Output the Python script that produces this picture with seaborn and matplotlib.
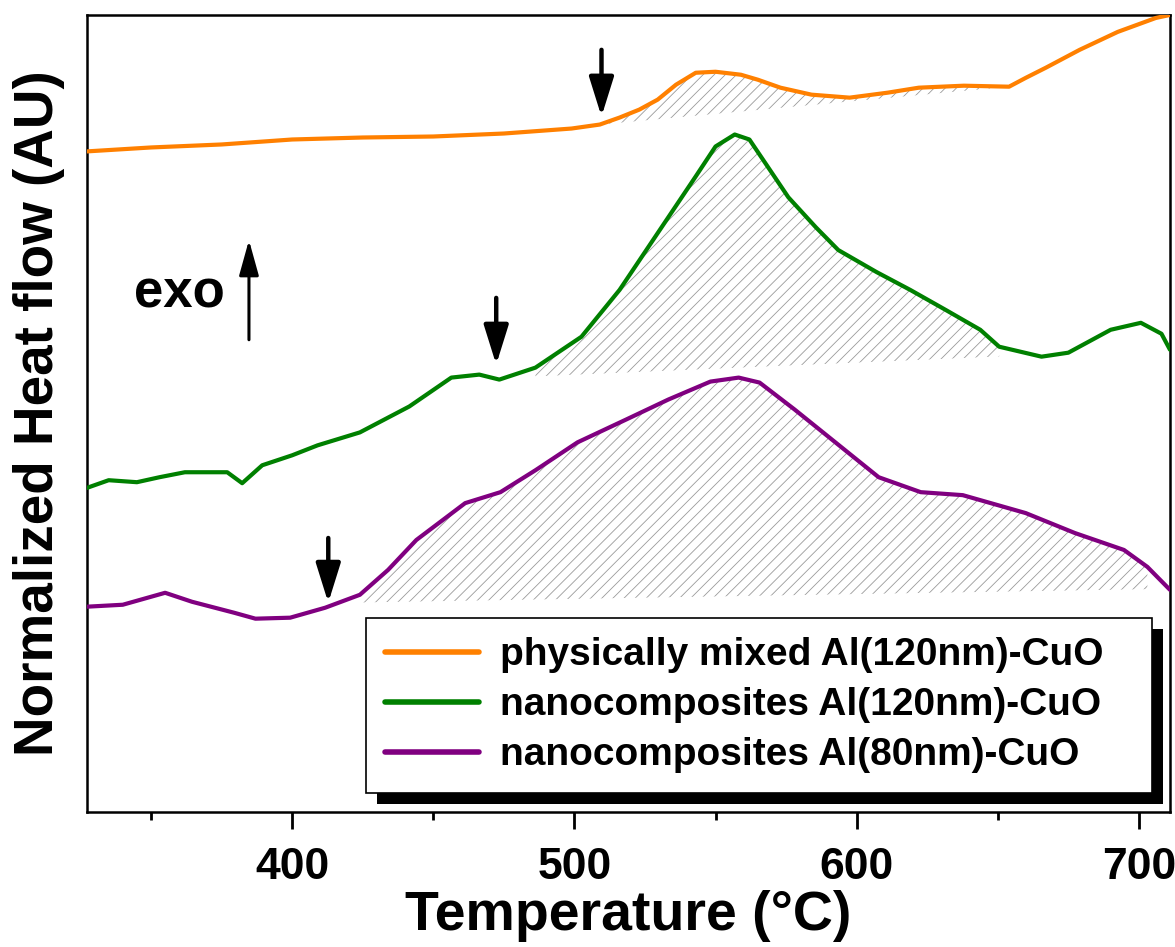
import numpy as np
import pandas as pd
import matplotlib
matplotlib.use("Agg")
import matplotlib.pyplot as plt
import matplotlib.patheffects as pe
import seaborn as sns

# curves (temperature in degC, heat flow in AU, offset per sample)
orange_T = [327, 350, 375, 400, 425, 450, 475, 499, 509, 516, 523, 529.5, 536, 543, 550, 559,
            565, 573, 584, 597.5, 611, 622, 638, 654, 660, 667, 679, 692.5, 706, 711]
orange_V = [6.63, 6.67, 6.70, 6.75, 6.77, 6.78, 6.81, 6.86, 6.90, 6.97, 7.05, 7.15, 7.30, 7.42,
            7.43, 7.40, 7.35, 7.27, 7.20, 7.17, 7.22, 7.27, 7.29, 7.28, 7.37, 7.47, 7.65, 7.83,
            7.97, 8.0]

green_T = [327, 335, 345, 353, 362, 377, 382.3, 389.4, 400, 409, 424, 441.5, 456.4, 466.3, 473.4,
           486.2, 502.5, 516, 529.5, 543, 550, 556.8, 562, 575.8, 585.5, 593.5, 607, 619, 631.5,
           643.8, 650.5, 665.5, 675, 690, 700.7, 708, 711]
green_V = [3.25, 3.33, 3.31, 3.36, 3.41, 3.41, 3.30, 3.48, 3.58, 3.68, 3.81, 4.07, 4.36, 4.39, 4.34,
           4.46, 4.77, 5.24, 5.81, 6.38, 6.68, 6.80, 6.75, 6.17, 5.87, 5.64, 5.42, 5.24, 5.04,
           4.84, 4.67, 4.57, 4.61, 4.84, 4.91, 4.80, 4.64]

purple_T = [327, 340, 355, 364.5, 379.4, 387, 399.3, 411.7, 424, 434, 444, 461.3, 473.8, 486.2,
            501.1, 518.4, 533.3, 548.2, 558.2, 565.6, 578, 592.9, 607.8, 622.7, 637.6, 659.9,
            677.3, 694.7, 703, 711]
purple_V = [2.06, 2.08, 2.20, 2.11, 2.00, 1.94, 1.95, 2.05, 2.18, 2.43, 2.73, 3.10, 3.21, 3.43,
            3.71, 3.94, 4.14, 4.32, 4.36, 4.31, 4.04, 3.70, 3.36, 3.21, 3.18, 3.00, 2.80, 2.63,
            2.46, 2.23]

labels = ["physically mixed Al(120nm)-CuO",
          "nanocomposites Al(120nm)-CuO",
          "nanocomposites Al(80nm)-CuO"]
colors = ["#FF8000", "#008000", "#800080"]

# integration baselines (start T, start V, end T, end V)
orange_base = [509, 6.90, 654, 7.28]
green_base = [476, 4.36, 657, 4.58]
purple_base = [418, 2.10, 710, 2.24]

# onset arrows (T, tail V, tip V)
onset_T = [509.6, 472.3, 412.8]
onset_tail = [7.65, 5.16, 2.75]
onset_tip = [6.98, 4.49, 2.10]

xticks_major = [400, 500, 600, 700]
xticks_minor = [350, 450, 550, 650]

sns.set_style("ticks")
plt.rcParams["font.family"] = ["Liberation Sans", "DejaVu Sans"]
plt.rcParams["font.weight"] = "bold"
plt.rcParams["text.color"] = "black"
plt.rcParams["axes.labelcolor"] = "black"
plt.rcParams["xtick.color"] = "black"
plt.rcParams["hatch.linewidth"] = 0.6

fig = plt.figure(figsize=(11.75, 9.47), dpi=100)
ax = fig.add_axes([0.074, 0.1426, 0.9217, 0.8416])

curves = [(orange_T, orange_V, orange_base),
          (green_T, green_V, green_base),
          (purple_T, purple_V, purple_base)]

for (T, V, base), c, lab in zip(curves, colors, labels):
    T = np.array(T)
    V = np.array(V)
    m = (T >= base[0]) & (T <= base[2])
    bl = np.interp(T[m], [base[0], base[2]], [base[1], base[3]])
    ax.fill_between(T[m], V[m], bl, where=V[m] >= bl, interpolate=True,
                    facecolor="none", edgecolor="#9a9a9a", hatch="///", linewidth=0, zorder=1)
    df = pd.DataFrame({"T": T, "V": V})
    sns.lineplot(data=df, x="T", y="V", color=c, lw=3, label=lab, ax=ax, zorder=3)

for t, a, b in zip(onset_T, onset_tail, onset_tip):
    ax.annotate("", xy=(t, b), xytext=(t, a),
                arrowprops=dict(arrowstyle="-|>,head_length=0.8,head_width=0.25",
                                lw=3.2, color="black", mutation_scale=30, shrinkA=0, shrinkB=0))

# exo direction
ax.annotate("", xy=(384.7, 5.74), xytext=(384.7, 4.74),
            arrowprops=dict(arrowstyle="-|>,head_length=0.9,head_width=0.25",
                            lw=2.2, color="black", mutation_scale=24, shrinkA=0, shrinkB=0))
ax.text(360, 5.2, "exo", fontsize=38, fontweight="bold", ha="center", va="center", color="black")

ax.set_xlim(327.3, 711)
ax.set_ylim(0, 8)
ax.set_yticks([])
ax.set_xticks(xticks_major)
ax.set_xticks(xticks_minor, minor=True)
ax.tick_params(axis="x", which="major", length=12, width=2, direction="out", labelsize=32,
               pad=13, colors="black")
ax.tick_params(axis="x", which="minor", length=6, width=2, direction="out", colors="black")
for lbl in ax.get_xticklabels():
    lbl.set_fontweight("bold")
for s in ax.spines.values():
    s.set_linewidth(1.8)
    s.set_color("black")

ax.set_xlabel("Temperature (°C)", fontsize=40, fontweight="bold", labelpad=2, color="black")
ax.set_ylabel("Normalized Heat flow (AU)", fontsize=39.5, fontweight="bold", labelpad=16,
              color="black")

leg = ax.legend(loc="upper left", bbox_to_anchor=(0.2576, 0.0, 0.7258, 0.2434), mode="expand",
                borderaxespad=0, fontsize=28, frameon=True, fancybox=False, handlelength=2.4,
                handletextpad=0.55, labelspacing=0.36, borderpad=0.5)
for h in leg.get_lines():
    h.set_linewidth(4)
for t in leg.get_texts():
    t.set_color("black")
fr = leg.get_frame()
fr.set_edgecolor("black")
fr.set_linewidth(1.2)
fr.set_alpha(1)
fr.set_path_effects([pe.SimplePatchShadow(offset=(8, -8), shadow_rgbFace="black", alpha=1),
                     pe.Normal()])

fig.savefig("out.png", dpi=100)
